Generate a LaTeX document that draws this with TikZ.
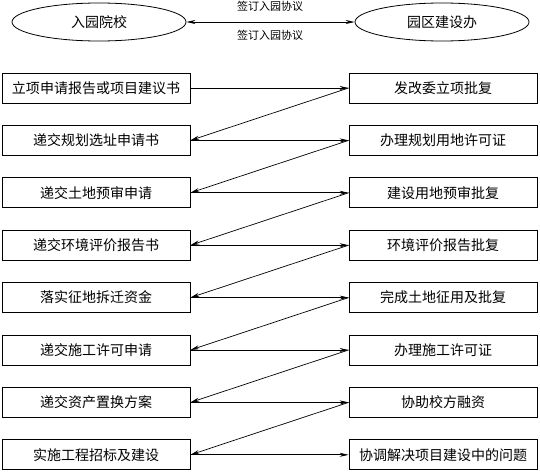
\documentclass[tikz,border=0pt]{standalone}
\usepackage{fontspec}
\newfontfamily\cjk{Noto Sans CJK SC}
\usetikzlibrary{arrows.meta,shapes.geometric}
\tikzset{
  boxnode/.style={draw,line width=0.8pt,minimum width=188pt,minimum height=30pt,inner sep=0pt,font=\cjk\fontsize{14}{14}\selectfont},
  ellnode/.style={draw,ellipse,line width=0.8pt,minimum width=174pt,minimum height=38pt,inner sep=0pt,font=\cjk\fontsize{14}{14}\selectfont},
  arr/.style={line width=0.7pt,-{Stealth[length=9pt,width=4pt]}},
  darr/.style={line width=0.7pt,{Stealth[length=9pt,width=4pt]}-{Stealth[length=9pt,width=4pt]}},
  lbl/.style={font=\cjk\fontsize{11}{11}\selectfont,inner sep=0pt}
}
\begin{document}
\begin{tikzpicture}[x=1pt,y=-1pt]
\useasboundingbox (0,0) rectangle (540,471);
\node[ellnode] (a) at (99,22) {入园院校};
\node[ellnode] (b) at (442,22) {园区建设办};
\draw[darr] (a) -- (b);
\node[lbl] at (270,6) {签订入园协议};
\node[lbl] at (270,35) {签订入园协议};
\foreach \i/\l/\r in {1/立项申请报告或项目建议书/发改委立项批复,
  2/递交规划选址申请书/办理规划用地许可证,
  3/递交土地预审申请/建设用地预审批复,
  4/递交环境评价报告书/环境评价报告批复,
  5/落实征地拆迁资金/完成土地征用及批复,
  6/递交施工许可申请/办理施工许可证,
  7/递交资产置换方案/协助校方融资,
  8/实施工程招标及建设/协调解决项目建设中的问题}{
  \node[boxnode] (L\i) at (96,{88+(\i-1)*52.4}) {\l};
  \node[boxnode] (R\i) at (443,{88+(\i-1)*52.4}) {\r};
  \draw[arr] (L\i.east) -- (R\i.west);
}
\foreach \i [evaluate=\i as \j using int(\i+1)] in {1,...,7}{
  \draw[arr] (R\i.west) -- (L\j.east);
}
\end{tikzpicture}
\end{document}
